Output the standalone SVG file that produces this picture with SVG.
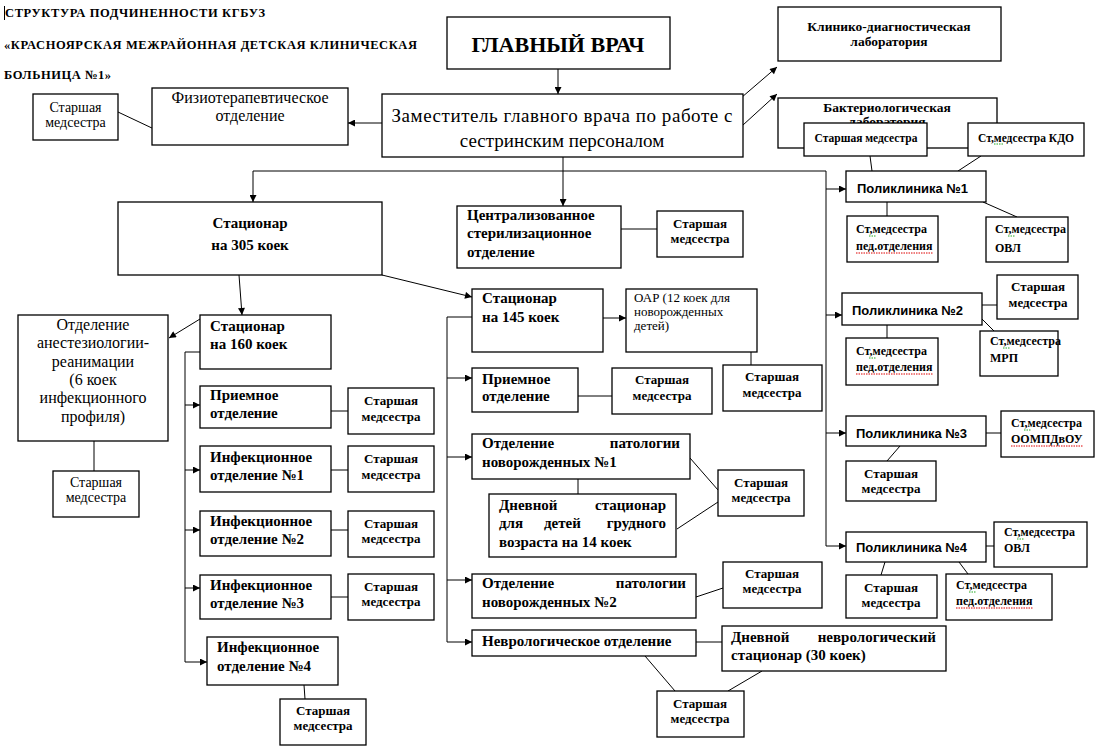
<svg xmlns="http://www.w3.org/2000/svg" width="1099" height="754" viewBox="0 0 1099 754">
<defs>
<marker id="ah" viewBox="0 0 10 10" refX="10" refY="5" markerWidth="9" markerHeight="7" markerUnits="userSpaceOnUse" orient="auto"><path d="M0,0 L10,5 L0,10 z" fill="#000"/></marker>
<style>
.box{fill:#fff;stroke:#000;stroke-width:1.3}
.ln{stroke:#000;stroke-width:1;fill:none}
.ar{stroke:#000;stroke-width:1;fill:none;marker-end:url(#ah)}
.b{font-family:'Liberation Serif','DejaVu Serif',serif;font-weight:bold;fill:#000}
.r{font-family:'Liberation Serif','DejaVu Serif',serif;fill:#000}
.s{font-family:'Liberation Sans',Arial,sans-serif;font-weight:bold;fill:#000;font-size:13px}
.c{text-anchor:middle}
.e{text-anchor:end}
.sp{stroke:#d00;stroke-width:1;stroke-dasharray:1.5 1;fill:none}
.sg{stroke:#2a2;stroke-width:1;stroke-dasharray:1.5 1;fill:none}
</style>
</defs>
<rect width="1099" height="754" fill="#fff"/>

<g id="title" font-family="Liberation Serif, serif">
<line x1="4.5" y1="6" x2="4.5" y2="20" stroke="#000" stroke-width="1"/>
<text class="b" x="5" y="17" font-size="12.5" textLength="260">СТРУКТУРА ПОДЧИНЕННОСТИ  КГБУЗ</text>
<text class="b" x="4" y="49" font-size="12.5" textLength="413">«КРАСНОЯРСКАЯ  МЕЖРАЙОННАЯ  ДЕТСКАЯ  КЛИНИЧЕСКАЯ</text>
<text class="b" x="4" y="79" font-size="12.5" textLength="107">БОЛЬНИЦА №1»</text>
</g>

<g id="connectors">
<path class="ar" d="M558,69 V94"/>
<path class="ar" d="M382,123 H348"/>
<path class="ar" d="M706,128 L777,67"/>
<path class="ar" d="M743,125 L777,94"/>
<path class="ln" d="M118,112 L154,129"/>
<path class="ln" d="M253,171 H826 V546"/>
<path class="ar" d="M253,171 V202"/>
<path class="ar" d="M563,157 V206"/>
<path class="ar" d="M826,189 H846"/>
<path class="ar" d="M826,315 H842"/>
<path class="ar" d="M826,433 H846"/>
<path class="ar" d="M826,546 H846"/>
<path class="ln" d="M870,156 L872,171"/>
<path class="ln" d="M981,156 L958,171"/>
<path class="ln" d="M887,202 V216"/>
<path class="ln" d="M983,202 L1017,217"/>
<path class="ln" d="M982,305 H997"/>
<path class="ln" d="M982,319 L994,331"/>
<path class="ln" d="M887,325 V338"/>
<path class="ln" d="M986,433 H1001"/>
<path class="ln" d="M900,446 L887,461"/>
<path class="ln" d="M986,546 H994"/>
<path class="ln" d="M885,562 L881,575"/>
<path class="ln" d="M959,562 L968,574"/>
<path class="ar" d="M239,275 L242,315"/>
<path class="ar" d="M382,275 L472,297"/>
<path class="ar" d="M200,319 L169,338"/>
<path class="ln" d="M94,441 V471"/>
<path class="ln" d="M200,352 H185 V662"/>
<path class="ar" d="M185,405 H200"/>
<path class="ar" d="M185,470 H200"/>
<path class="ar" d="M185,530 H200"/>
<path class="ar" d="M185,588 H200"/>
<path class="ar" d="M185,662 H207"/>
<path class="ln" d="M331,411 H348"/>
<path class="ln" d="M331,470 H348"/>
<path class="ln" d="M331,530 H348"/>
<path class="ln" d="M331,597 H348"/>
<path class="ln" d="M304,685 L305,699"/>
<path class="ln" d="M621,229 H657"/>
<path class="ar" d="M603,318 H626"/>
<path class="ln" d="M751,352 V365"/>
<path class="ln" d="M472,317 H447 V642"/>
<path class="ar" d="M447,378 H472"/>
<path class="ar" d="M447,457 H472"/>
<path class="ar" d="M447,580 H472"/>
<path class="ar" d="M447,642 H472"/>
<path class="ln" d="M578,396 H612"/>
<path class="ln" d="M578,479 V494"/>
<path class="ln" d="M690,458 L718,490"/>
<path class="ln" d="M677,529 L718,502"/>
<path class="ln" d="M696,597 L723,588"/>
<path class="ln" d="M696,642 H722"/>
<path class="ln" d="M645,656 L675,691"/>
<path class="ln" d="M762,671 L728,691"/>
</g>

<g font-family="Liberation Serif, serif">
<g id="glavvrach">
<rect class="box" x="447" y="17" width="223" height="52"/>
<text class="b c" x="558" y="52" font-size="22">ГЛАВНЫЙ ВРАЧ</text>
</g>
<g id="zam">
<rect class="box" x="382" y="94" width="361" height="63"/>
<text class="r c" x="562" y="122" font-size="19" textLength="341">Заместитель главного врача по работе с</text>
<text class="r c" x="562" y="147" font-size="19">сестринским персоналом</text>
</g>
<g id="kdl">
<rect class="box" x="778" y="7" width="223" height="54"/>
<text class="b c" x="889" y="31" font-size="13.5">Клинико-диагностическая</text>
<text class="b c" x="889" y="46" font-size="13.5">лаборатория</text>
</g>
<g id="bakt">
<rect class="box" x="778" y="98" width="219" height="50"/>
<text class="b c" x="887" y="112" font-size="13.5">Бактериологическая</text>
<text class="b c" x="887" y="126" font-size="13.5">лаборатория</text>
</g>
<g id="bakt-st">
<rect class="box" x="804" y="123" width="123" height="33"/>
<text class="b c" x="866" y="142" font-size="11.5">Старшая медсестра</text>
</g>
<g id="kdo-st">
<rect class="box" x="968" y="123" width="116" height="33"/>
<text class="b c" x="1026" y="142" font-size="11.5">Ст,медсестра КДО</text>
<path class="sg" d="M994,144 H1003"/>
</g>
<g id="fizio-st">
<rect class="box" x="33" y="94" width="85" height="46"/>
<text class="r c" x="75.5" y="112" font-size="14">Старшая</text>
<text class="r c" x="75.5" y="127" font-size="14">медсестра</text>
</g>
<g id="fizio">
<rect class="box" x="152" y="88" width="196" height="57"/>
<text class="r c" x="250" y="103" font-size="16" textLength="157">Физиотерапевтическое</text>
<text class="r c" x="250" y="121" font-size="16">отделение</text>
</g>

<g id="st305">
<rect class="box" x="118" y="202" width="264" height="73"/>
<text class="b c" x="250" y="228" font-size="15">Стационар</text>
<text class="b c" x="250" y="250" font-size="15">на 305 коек</text>
</g>
<g id="cso">
<rect class="box" x="457" y="206" width="164" height="62"/>
<text class="b" x="467" y="220" font-size="15">Централизованное</text>
<text class="b" x="467" y="238" font-size="15">стерилизационное</text>
<text class="b" x="467" y="257" font-size="15">отделение</text>
</g>
<g id="cso-st">
<rect class="box" x="657" y="211" width="86" height="46"/>
<text class="b c" x="700" y="228" font-size="13">Старшая</text>
<text class="b c" x="700" y="243" font-size="13">медсестра</text>
</g>

<g id="anest">
<rect class="box" x="18" y="315" width="150" height="126"/>
<text class="r c" x="93" y="330" font-size="16">Отделение</text>
<text class="r c" x="93" y="348" font-size="16">анестезиологии-</text>
<text class="r c" x="93" y="367" font-size="16">реанимации</text>
<text class="r c" x="93" y="385" font-size="16">(6 коек</text>
<text class="r c" x="93" y="403" font-size="16">инфекционного</text>
<text class="r c" x="93" y="422" font-size="16">профиля)</text>
</g>
<g id="anest-st">
<rect class="box" x="53" y="471" width="86" height="46"/>
<text class="r c" x="96" y="487" font-size="14">Старшая</text>
<text class="r c" x="96" y="502" font-size="14">медсестра</text>
</g>
<g id="st160">
<rect class="box" x="200" y="315" width="131" height="54"/>
<text class="b" x="210" y="331" font-size="15">Стационар</text>
<text class="b" x="210" y="349" font-size="15">на 160 коек</text>
</g>
<g id="priem160">
<rect class="box" x="200" y="386" width="131" height="42"/>
<text class="b" x="210" y="400" font-size="15">Приемное</text>
<text class="b" x="210" y="418" font-size="15">отделение</text>
</g>
<g id="priem160-st">
<rect class="box" x="348" y="388" width="86" height="46"/>
<text class="b c" x="391" y="405" font-size="13">Старшая</text>
<text class="b c" x="391" y="421" font-size="13">медсестра</text>
</g>
<g id="inf1">
<rect class="box" x="200" y="446" width="131" height="46"/>
<text class="b" x="210" y="462" font-size="15">Инфекционное</text>
<text class="b" x="210" y="480" font-size="15">отделение №1</text>
</g>
<g id="inf1-st">
<rect class="box" x="348" y="446" width="86" height="46"/>
<text class="b c" x="391" y="463" font-size="13">Старшая</text>
<text class="b c" x="391" y="479" font-size="13">медсестра</text>
</g>
<g id="inf2">
<rect class="box" x="200" y="511" width="131" height="45"/>
<text class="b" x="210" y="526" font-size="15">Инфекционное</text>
<text class="b" x="210" y="544" font-size="15">отделение №2</text>
</g>
<g id="inf2-st">
<rect class="box" x="348" y="511" width="86" height="46"/>
<text class="b c" x="391" y="528" font-size="13">Старшая</text>
<text class="b c" x="391" y="543" font-size="13">медсестра</text>
</g>
<g id="inf3">
<rect class="box" x="200" y="575" width="131" height="44"/>
<text class="b" x="210" y="590" font-size="15">Инфекционное</text>
<text class="b" x="210" y="608" font-size="15">отделение №3</text>
</g>
<g id="inf3-st">
<rect class="box" x="348" y="574" width="86" height="46"/>
<text class="b c" x="391" y="591" font-size="13">Старшая</text>
<text class="b c" x="391" y="606" font-size="13">медсестра</text>
</g>
<g id="inf4">
<rect class="box" x="207" y="637" width="131" height="48"/>
<text class="b" x="217" y="652" font-size="15">Инфекционное</text>
<text class="b" x="217" y="671" font-size="15">отделение №4</text>
</g>
<g id="inf4-st">
<rect class="box" x="280" y="699" width="86" height="46"/>
<text class="b c" x="323" y="715" font-size="13">Старшая</text>
<text class="b c" x="323" y="730" font-size="13">медсестра</text>
</g>

<g id="st145">
<rect class="box" x="472" y="289" width="131" height="63"/>
<text class="b" x="482" y="303" font-size="15">Стационар</text>
<text class="b" x="482" y="322" font-size="15">на 145 коек</text>
</g>
<g id="oar">
<rect class="box" x="626" y="289" width="131" height="63"/>
<text class="r" x="634" y="302" font-size="13">ОАР (12 коек для</text>
<text class="r" x="634" y="316" font-size="13">новорожденных</text>
<text class="r" x="634" y="330" font-size="13">детей)</text>
</g>
<g id="oar-st">
<rect class="box" x="723" y="365" width="99" height="46"/>
<text class="b c" x="772" y="381" font-size="13">Старшая</text>
<text class="b c" x="772" y="397" font-size="13">медсестра</text>
</g>
<g id="priem145">
<rect class="box" x="472" y="368" width="106" height="44"/>
<text class="b" x="482" y="384" font-size="15">Приемное</text>
<text class="b" x="482" y="401" font-size="15">отделение</text>
</g>
<g id="priem145-st">
<rect class="box" x="612" y="368" width="100" height="46"/>
<text class="b c" x="662" y="384" font-size="13">Старшая</text>
<text class="b c" x="662" y="400" font-size="13">медсестра</text>
</g>
<g id="opn1">
<rect class="box" x="472" y="434" width="218" height="45"/>
<text class="b" x="482" y="448" font-size="15">Отделение</text>
<text class="b e" x="680" y="448" font-size="15">патологии</text>
<text class="b" x="482" y="467" font-size="15">новорожденных №1</text>
</g>
<g id="dnevnoy14">
<rect class="box" x="489" y="494" width="187" height="63"/>
<text class="b" x="499" y="510" font-size="15">Дневной</text>
<text class="b e" x="666" y="510" font-size="15">стационар</text>
<text class="b" x="499" y="528" font-size="15">для</text>
<text class="b" x="544" y="528" font-size="15">детей</text>
<text class="b e" x="666" y="528" font-size="15">грудного</text>
<text class="b" x="499" y="547" font-size="15">возраста на 14 коек</text>
</g>
<g id="opn1-st">
<rect class="box" x="718" y="470" width="86" height="46"/>
<text class="b c" x="761" y="487" font-size="13">Старшая</text>
<text class="b c" x="761" y="502" font-size="13">медсестра</text>
</g>
<g id="opn2">
<rect class="box" x="472" y="574" width="224" height="44"/>
<text class="b" x="482" y="588" font-size="15">Отделение</text>
<text class="b e" x="686" y="588" font-size="15">патологии</text>
<text class="b" x="482" y="607" font-size="15">новорожденных №2</text>
</g>
<g id="opn2-st">
<rect class="box" x="723" y="562" width="99" height="46"/>
<text class="b c" x="772" y="578" font-size="13">Старшая</text>
<text class="b c" x="772" y="593" font-size="13">медсестра</text>
</g>
<g id="nevro">
<rect class="box" x="472" y="630" width="224" height="26"/>
<text class="b" x="482" y="646" font-size="15">Неврологическое отделение</text>
</g>
<g id="dnevnoy-nevro">
<rect class="box" x="722" y="626" width="224" height="45"/>
<text class="b" x="731" y="642" font-size="15">Дневной</text>
<text class="b e" x="936" y="642" font-size="15">неврологический</text>
<text class="b" x="731" y="660" font-size="15">стационар (30 коек)</text>
</g>
<g id="nevro-st">
<rect class="box" x="657" y="691" width="87" height="46"/>
<text class="b c" x="700" y="708" font-size="13">Старшая</text>
<text class="b c" x="700" y="723" font-size="13">медсестра</text>
</g>

<g id="pol1">
<rect class="box" x="846" y="171" width="140" height="31"/>
<text class="s" x="857" y="193">Поликлиника №1</text>
</g>
<g id="pol1-ped">
<rect class="box" x="847" y="216" width="91" height="46"/>
<text class="b" x="856" y="233" font-size="12">Ст,медсестра</text>
<text class="b" x="856" y="250" font-size="12">пед.отделения</text>
<path class="sg" d="M869,236 H876"/>
<path class="sp" d="M856,253 H933"/>
</g>
<g id="pol1-ovl">
<rect class="box" x="986" y="217" width="82" height="45"/>
<text class="b" x="995" y="233" font-size="12">Ст,медсестра</text>
<text class="b" x="995" y="252" font-size="12">ОВЛ</text>
<path class="sg" d="M1008,236 H1015"/>
</g>
<g id="pol2">
<rect class="box" x="842" y="293" width="140" height="32"/>
<text class="s" x="852" y="315">Поликлиника №2</text>
</g>
<g id="pol2-st">
<rect class="box" x="997" y="275" width="81" height="44"/>
<text class="b c" x="1038" y="291" font-size="13">Старшая</text>
<text class="b c" x="1038" y="307" font-size="13">медсестра</text>
</g>
<g id="pol2-mrp">
<rect class="box" x="980" y="331" width="78" height="45"/>
<text class="b" x="990" y="345" font-size="12">Ст,медсестра</text>
<text class="b" x="990" y="362" font-size="12">МРП</text>
<path class="sg" d="M1003,348 H1010"/>
</g>
<g id="pol2-ped">
<rect class="box" x="846" y="338" width="92" height="47"/>
<text class="b" x="856" y="355" font-size="12">Ст,медсестра</text>
<text class="b" x="856" y="371" font-size="12">пед.отделения</text>
<path class="sg" d="M869,358 H876"/>
<path class="sp" d="M856,374 H933"/>
</g>
<g id="pol3">
<rect class="box" x="846" y="416" width="140" height="30"/>
<text class="s" x="856" y="438">Поликлиника №3</text>
</g>
<g id="pol3-oomp">
<rect class="box" x="1001" y="411" width="93" height="46"/>
<text class="b" x="1011" y="427" font-size="12">Ст,медсестра</text>
<text class="b" x="1011" y="443" font-size="12">ООМПДвОУ</text>
<path class="sg" d="M1024,430 H1031"/>
<path class="sp" d="M1011,446 H1083"/>
</g>
<g id="pol3-st">
<rect class="box" x="846" y="461" width="90" height="40"/>
<text class="b c" x="891" y="478" font-size="13">Старшая</text>
<text class="b c" x="891" y="493" font-size="13">медсестра</text>
</g>
<g id="pol4">
<rect class="box" x="846" y="532" width="140" height="30"/>
<text class="s" x="856" y="552">Поликлиника №4</text>
</g>
<g id="pol4-ovl">
<rect class="box" x="994" y="522" width="93" height="45"/>
<text class="b" x="1004" y="536" font-size="12">Ст,медсестра</text>
<text class="b" x="1004" y="552" font-size="12">ОВЛ</text>
<path class="sg" d="M1017,539 H1024"/>
</g>
<g id="pol4-st">
<rect class="box" x="846" y="575" width="91" height="43"/>
<text class="b c" x="891" y="592" font-size="13">Старшая</text>
<text class="b c" x="891" y="607" font-size="13">медсестра</text>
</g>
<g id="pol4-ped">
<rect class="box" x="946" y="574" width="106" height="46"/>
<text class="b" x="956" y="589" font-size="12">Ст,медсестра</text>
<text class="b" x="956" y="605" font-size="12">пед.отделения</text>
<path class="sg" d="M969,592 H976"/>
<path class="sp" d="M956,608 H1033"/>
</g>
</g>
</svg>
